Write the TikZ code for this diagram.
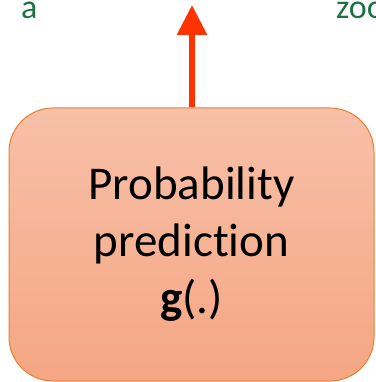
\documentclass[tikz,border=0pt]{standalone}
\usepackage{fontspec}
\setmainfont[Ligatures=NoCommon, RawFeature={-liga;-clig;-dlig}]{Carlito}
\usetikzlibrary{arrows.meta}
\definecolor{boxtop}{RGB}{247,192,168}
\definecolor{boxbot}{RGB}{245,166,131}
\definecolor{boxline}{RGB}{237,125,49}
\definecolor{arrowred}{RGB}{255,51,0}
\definecolor{wordgreen}{RGB}{30,113,69}
\tikzset{
  probbox/.style={draw=boxline, line width=1pt, rounded corners=44pt,
    top color=boxtop, bottom color=boxbot,
    minimum width=365pt, minimum height=273pt, inner sep=0pt,
    align=center, font=\fontsize{47}{57}\selectfont},
  uparrow/.style={draw=arrowred, line width=6pt,
    -{Triangle[length=30pt, width=29pt]}},
  greenword/.style={text=wordgreen, font=\fontsize{34}{36}\selectfont, anchor=base west, inner sep=0pt}
}
\begin{document}
\begin{tikzpicture}[x=1pt,y=-1pt]
\useasboundingbox (0,0) rectangle (375,382);
\clip (0,0) rectangle (375,382);
\node[probbox] (box) at (191.5,244.5) {Probability\\predict\kern0pt ion\\\textbf{g}(.)};
\coordinate (tip) at (192,5);
\draw[uparrow] (box.north -| tip) -- (tip);
\node[greenword] (worda) at (21,19) {a};
\node[greenword] (wordzoo) at (336,19) {zoo};
\end{tikzpicture}
\end{document}
